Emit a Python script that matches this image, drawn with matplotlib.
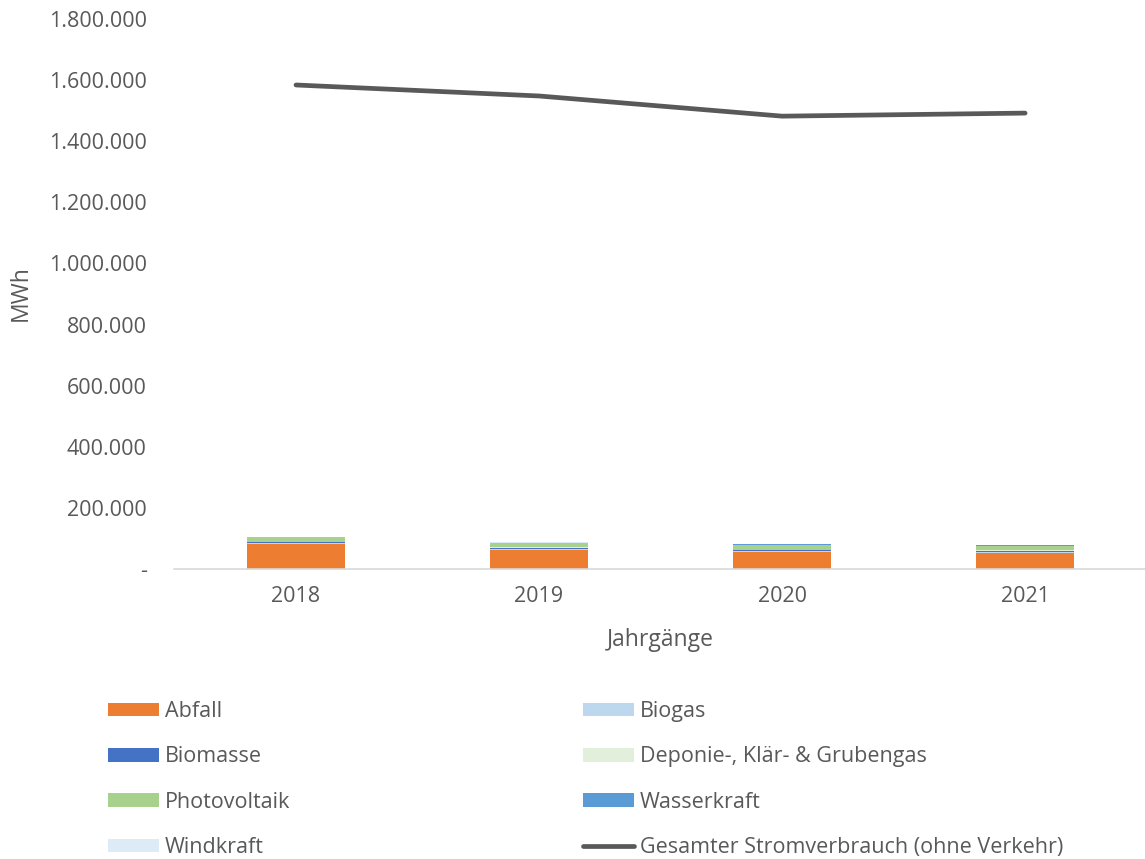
import matplotlib
matplotlib.use('Agg')
import matplotlib.pyplot as plt
import numpy as np
from matplotlib.ticker import FuncFormatter

plt.rcParams['font.family'] = ['Open Sans', 'DejaVu Sans']

years = ['2018', '2019', '2020', '2021']
abfall = [82000, 63000, 56000, 53500]
biogas = [4000, 3000, 2000, 2000]
biomasse = [1500, 3000, 3000, 4000]
deponie = [2000, 2000, 2500, 2000]
photovoltaik = [14000, 14000, 16000, 13000]
wasserkraft = [500, 1000, 1500, 2500]
windkraft = [1000, 1500, 2000, 1500]
gesamt = [1584000, 1548000, 1482000, 1492000]

series = [
    ('Abfall', abfall, '#ED7D31'),
    ('Biogas', biogas, '#BDD7EE'),
    ('Biomasse', biomasse, '#4472C4'),
    ('Deponie-, Klär- & Grubengas', deponie, '#E2EFDA'),
    ('Photovoltaik', photovoltaik, '#A9D18E'),
    ('Wasserkraft', wasserkraft, '#5B9BD5'),
    ('Windkraft', windkraft, '#DDEBF7'),
]

fig = plt.figure(figsize=(11.45, 8.59), dpi=100)
ax = fig.add_axes([0.1524, 0.3376, 0.849, 0.6403])

x = np.arange(len(years))
bottom = np.zeros(len(years))
handles = []
for name, vals, col in series:
    b = ax.bar(x, vals, 0.4, bottom=bottom, color=col, label=name,
               linewidth=0)
    bottom += np.array(vals)
    handles.append(b)
ln, = ax.plot(x, gesamt, color='#595959', lw=3.4, solid_capstyle='round',
              label='Gesamter Stromverbrauch (ohne Verkehr)')
handles.append(ln)

ax.set_xlim(-0.5, 3.5)
ax.set_ylim(0, 1800000)
ax.set_yticks(np.arange(0, 1800001, 200000))

def fmt(v, pos):
    if v == 0:
        return '-'
    return f'{int(v):,}'.replace(',', '.')

ax.yaxis.set_major_formatter(FuncFormatter(fmt))
ax.set_xticks(x)
ax.set_xticklabels(years)
ax.tick_params(axis='both', length=0, labelsize=15.5, colors='#595959', pad=12)
ax.tick_params(axis='y', pad=20)
for s in ['top', 'right', 'left']:
    ax.spines[s].set_visible(False)
ax.spines['bottom'].set_color('#D9D9D9')
ax.spines['bottom'].set_linewidth(1.2)

ax.set_xlabel('Jahrgänge', fontsize=16.5, color='#595959', labelpad=15.5)
fig.text(0.018, 1 - 293 / 859, 'MWh', rotation=90, fontsize=16.5,
         color='#595959', ha='center', va='center')

# legend in row order: two columns
labels = [h.get_label() for h in handles]
order = [0, 2, 4, 6, 1, 3, 5, 7]
leg = fig.legend([handles[i] for i in order], [labels[i] for i in order],
                 ncol=2, loc='upper left', bbox_to_anchor=(0.077, 0.2065),
                 frameon=False, fontsize=15.5, labelcolor='#595959',
                 handlelength=2.37, handleheight=0.6, handletextpad=0.28,
                 columnspacing=13.6, labelspacing=1.13)

fig.savefig('out.png', dpi=100)
